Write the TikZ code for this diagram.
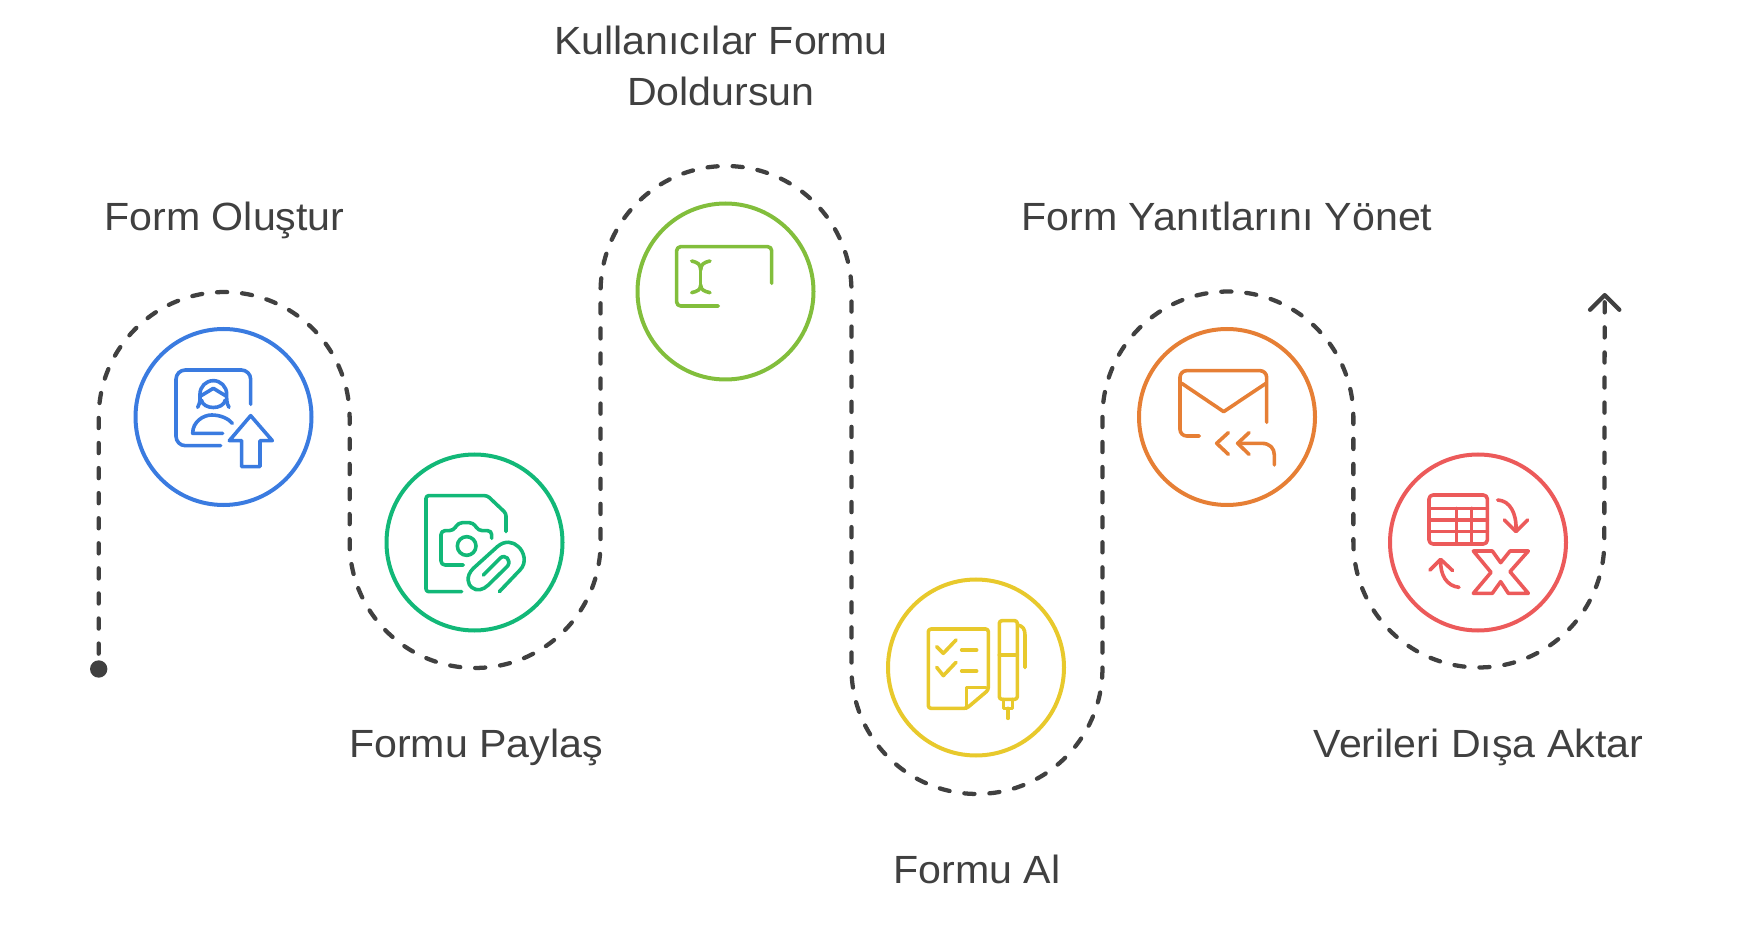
\documentclass[tikz,border=0pt]{standalone}
\usepackage{fontspec}
\setmainfont[FakeStretch=1.046]{Liberation Sans}
\usetikzlibrary{arrows.meta}
\definecolor{inkgray}{HTML}{404040}
\definecolor{formblue}{HTML}{3A7BE0}
\definecolor{formgreen}{HTML}{12B878}
\definecolor{formlime}{HTML}{82BE3C}
\definecolor{formyellow}{HTML}{E8C92C}
\definecolor{formorange}{HTML}{E67F35}
\definecolor{formred}{HTML}{EC5A5A}
\begin{document}
\begin{tikzpicture}[x=0.75pt,y=-0.75pt]
    \tikzstyle{ring}=[circle,draw,line width=3pt,minimum size=132pt,inner sep=0pt]
    \tikzstyle{caption}=[text=inkgray,font=\fontsize{29.5}{37.7}\selectfont,align=center,inner sep=0pt,anchor=base]
    \tikzstyle{trail}=[draw=inkgray,line width=3.2pt,line cap=round,dash pattern=on 7.6pt off 11.2pt,dash phase=7.3pt]
    \tikzstyle{iconline}=[line width=2.7pt,line cap=round,line join=round]
    \tikzstyle{iconbox}=[x=0.25pt,y=-0.25pt]
    \useasboundingbox (0,0) rectangle (1742,944);
    % rings
    \node[ring,draw=formblue](create)at(223.5,417){};
    \node[ring,draw=formgreen](share)at(474.5,542.5){};
    \node[ring,draw=formlime](fill)at(725.5,291.5){};
    \node[ring,draw=formyellow](receive)at(976,667.5){};
    \node[ring,draw=formorange](manage)at(1227,417){};
    \node[ring,draw=formred](export)at(1478,542.5){};
    % captions
    \node[caption](createtext)at(224.5,231){Form Oluştur};
    \node[caption](sharetext)at(476,757.5){Formu Paylaş};
    \node[caption,anchor=center](filltext)at(721,66){Kullanıcılar Formu\\Doldursun};
    \node[caption](receivetext)at(977,883.5){Formu Al};
    \node[caption](managetext)at(1227,231){Form Yanıtlarını Yönet};
    \node[caption](exporttext)at(1478.5,757.5){Verileri Dışa Aktar};
    % trail
    \node[circle,fill=inkgray,minimum size=13pt,inner sep=0pt](start)at(98.7,669){};
    \coordinate(tip)at(1604.7,293);
    \draw[trail,-{Straight Barb[round,length=11pt,width=22pt]}](start.center)--++(0,-251.5)
        arc[start angle=180,end angle=0,radius=94.1pt]--++(0,125)
        arc[start angle=180,end angle=360,radius=94.1pt]--++(0,-251)
        arc[start angle=180,end angle=0,radius=94.1pt]--++(0,377)
        arc[start angle=180,end angle=360,radius=94.1pt]--++(0,-251.5)
        arc[start angle=180,end angle=0,radius=94.1pt]--++(0,125)
        arc[start angle=180,end angle=360,radius=94.1pt]--(tip);
    % blue icon
    \begin{scope}[shift={(160,350)},iconbox,iconline,draw=formblue]
        \draw[rounded corners=7pt](272,163)--(272,60)--(48,60)--(48,287)--(182,287);
        \draw(113,172)to[out=60,in=-90](120,132)arc[start angle=180,end angle=0,radius=10pt]
            to[out=-90,in=120](207,172);
        \draw(122,138)--(160,115)--(198,138);
        \draw(124,150)..controls(130,180)and(190,180)..(196,150);
        \draw(188,250)--(98,250)..controls(98,215)and(130,195)..(155,195)
            ..controls(180,195)and(205,205)..(217,220);
        \draw(272,197)--(337,272)--(300,272)--(300,350)--(245,350)--(245,272)--(208,272)--cycle;
    \end{scope}
    % green icon
    \begin{scope}[shift={(410,480)},iconbox,iconline,draw=formgreen]
        \draw[rounded corners=2pt](288,155)--(288,100)--(232,47)--(48,47)--(48,335)--(155,335);
        \draw[rounded corners=3pt](245,175)--(245,152)--(205,152)--(190,128)--(145,128)
            --(130,152)--(93,152)--(93,255)--(160,255);
        \draw(170,198)circle[radius=7pt];
        \draw(268,335)--(330,270)..controls(352,248)and(342,215)..(325,200)
            ..controls(310,185)and(285,180)..(262,200)--(190,265)
            ..controls(165,290)and(175,315)..(185,322)..controls(200,335)and(220,330)..(235,315)
            --(293,258)..controls(305,240)and(285,220)..(270,235)--(220,285);
    \end{scope}
    % lime icon
    \begin{scope}[shift={(660,230)},iconbox,iconline,draw=formlime]
        \draw[rounded corners=3pt](335,160)--(335,50)--(50,50)--(50,228)--(175,228);
        \draw(122,120)--(122,165);
        \draw(95,93)..controls(112,97)and(122,102)..(122,120)..controls(122,102)and(133,97)..(150,93);
        \draw(95,188)..controls(112,184)and(122,180)..(122,165)..controls(122,180)and(133,184)..(150,188);
    \end{scope}
    % yellow icon
    \begin{scope}[shift={(910,605)},iconbox,iconline,draw=formyellow]
        \draw[rounded corners=2pt](170,310)--(55,310)--(55,72)--(235,72)--(235,255)--cycle;
        \draw(170,310)--(170,248)--(228,248);
        \draw(80,125)--(100,145)--(138,105);
        \draw(80,187)--(100,212)--(138,172);
        \draw(155,135)--(200,135);
        \draw(155,198)--(200,198);
        \draw[rounded corners=2pt](268,47)rectangle(322,283);
        \draw(268,150)--(322,150);
        \draw(280,283)--(280,310)--(308,310)--(308,283);
        \draw(294,310)--(294,340);
        \draw(322,60)..controls(338,62)and(345,72)..(345,90)--(345,188);
    \end{scope}
    % orange icon
    \begin{scope}[shift={(1165,355)},iconbox,iconline,draw=formorange]
        \draw[rounded corners=5pt](305,202)--(305,47)--(45,47)--(45,243)--(103,243);
        \draw(50,85)--(176,170)--(303,85);
        \draw(190,233)--(155,265)--(190,298);
        \draw(252,233)--(218,265)--(252,298);
        \draw(218,265)--(290,265)..controls(315,265)and(328,280)..(328,300)--(328,330);
    \end{scope}
    % red icon
    \begin{scope}[shift={(1415,480)},iconbox,iconline,draw=formred]
        \draw[rounded corners=3pt](42,45)rectangle(217,192);
        \draw(42,85)--(217,85);
        \draw(42,120)--(217,120);
        \draw(42,155)--(217,155);
        \draw(125,85)--(125,192);
        \draw(170,85)--(170,192);
        \draw(248,60)..controls(285,62)and(305,100)..(303,150);
        \draw(268,120)--(303,155)--(338,120);
        \draw(132,322)..controls(95,318)and(75,285)..(77,240);
        \draw(45,270)--(77,238)--(113,272);
        \draw(175,213)--(232,213)--(257,248)--(285,213)--(340,213)--(285,275)--(340,340)
            --(280,340)--(257,305)--(232,340)--(175,340)--(228,277)--cycle;
    \end{scope}
\end{tikzpicture}
\end{document}
